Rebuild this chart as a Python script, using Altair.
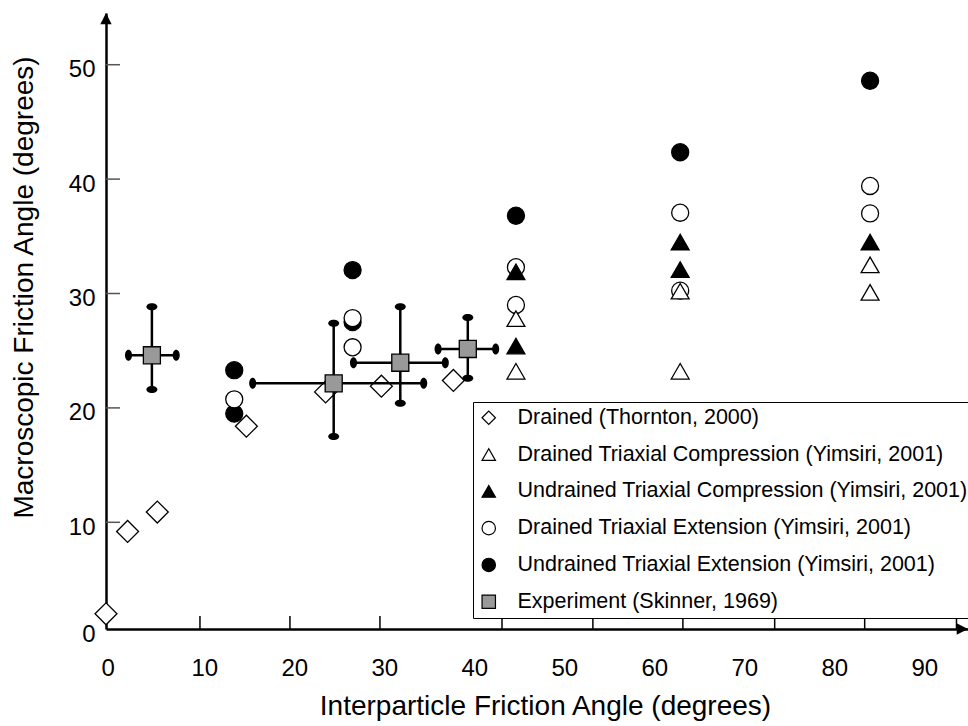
import altair as alt
import pandas as pd

FONT = "Liberation Sans, Arial, Helvetica, sans-serif"

# ---- series definitions (legend order) ----
series_names = [
    "Drained (Thornton, 2000)",
    "Drained Triaxial Compression (Yimsiri, 2001)",
    "Undrained Triaxial Compression (Yimsiri, 2001)",
    "Drained Triaxial Extension (Yimsiri, 2001)",
    "Undrained Triaxial Extension (Yimsiri, 2001)",
    "Experiment (Skinner, 1969)",
]
series_shapes = ["diamond", "triangle-up", "triangle-up", "circle", "circle", "square"]
series_fills = ["white", "white", "black", "white", "black", "#999999"]
series_strokes = ["black"] * 6

# ---- Thornton (2000), drained DEM results ----
thornton_x = [0.0, 2.4, 5.7, 15.6, 24.4, 30.6, 38.6]
thornton_y = [2.0, 9.2, 10.9, 18.4, 21.4, 21.9, 22.4]

# ---- Yimsiri (2001) ----
dtc_x = [45.55, 45.55, 63.8, 63.8, 84.9, 84.9]
dtc_y = [27.8, 23.2, 30.2, 23.2, 32.5, 30.1]
utc_x = [45.55, 45.55, 63.8, 63.8, 84.9]
utc_y = [31.9, 25.4, 34.5, 32.1, 34.5]
dte_x = [14.25, 27.4, 27.4, 45.55, 45.55, 63.8, 63.8, 84.9, 84.9]
dte_y = [20.75, 27.85, 25.3, 32.3, 29.0, 37.06, 30.25, 39.4, 37.0]
ute_x = [14.25, 14.25, 27.4, 27.4, 45.55, 63.8, 84.9]
ute_y = [23.3, 19.5, 32.05, 27.5, 36.8, 42.35, 48.6]

# ---- Skinner (1969) experiments with ranges ----
skinner_x = [5.1, 25.3, 32.7, 40.2]
skinner_y = [24.6, 22.15, 23.95, 25.15]
skinner_x_lo = [2.5, 16.3, 27.5, 36.9]
skinner_x_hi = [7.8, 35.3, 37.7, 43.3]
skinner_y_lo = [21.6, 17.5, 20.4, 22.6]
skinner_y_hi = [28.85, 27.4, 28.85, 27.9]

# ---- axis ticks / labels ----
x_label_values = [0, 10, 20, 30, 40, 50, 60, 70, 80, 90]
x_tick_values = [10.44, 20.44, 30.44, 44.0, 54.1, 64.1, 74.3, 84.3, 94.5]
y_tick_values = [10, 20, 30, 40, 50]
x_domain = [0, 95.78]
y_domain = [0.673, 54.52]
# the lowest label "0" sits at the bottom of the vertical axis
y_label_values = [y_domain[0]] + y_tick_values

W, H = 862, 616

xs = alt.Scale(domain=x_domain, nice=False, zero=False)
ys = alt.Scale(domain=y_domain, nice=False, zero=False)

x_axis = alt.Axis(
    values=x_label_values, ticks=False, tickSize=0, grid=False,
    domainColor="black", domainWidth=2.5,
    labelFont=FONT, labelFontSize=24, labelColor="black",
    labelAlign="left", labelOffset=-5, labelPadding=27,
    labelFlush=False, labelOverlap=False,
    title="Interparticle Friction Angle (degrees)",
    titleFont=FONT, titleFontSize=28, titleFontWeight="normal", titleColor="black",
    titleX=439, titleY=85, titleAlign="center", titleBaseline="alphabetic",
)
y_axis = alt.Axis(
    values=y_label_values, ticks=False, tickSize=0, grid=False,
    domainColor="black", domainWidth=2.5,
    labelFont=FONT, labelFontSize=24, labelColor="black",
    labelPadding=11, labelOffset=5, labelFlush=False, labelOverlap=False,
    labelBaseline="middle",
    labelExpr="datum.value < 1 ? '0' : datum.label",
    title="Macroscopic Friction Angle (degrees)",
    titleFont=FONT, titleFontSize=28, titleFontWeight="normal", titleColor="black",
    titleX=-74, titleY=274, titleAngle=270, titleAlign="center", titleBaseline="alphabetic",
)

legend = alt.Legend(
    title=None, orient="none", legendX=367, legendY=389,
    strokeColor="black", fillColor="white", padding=5,
    rowPadding=13.8, symbolSize=180, symbolStrokeColor="black", symbolStrokeWidth=1.2,
    symbolOffset=0, labelOffset=18,
    labelFont=FONT, labelFontSize=21.5, labelColor="black", labelLimit=800,
)

X = lambda f: alt.X(f, scale=xs, axis=x_axis)
Y = lambda f: alt.Y(f, scale=ys, axis=y_axis)


def series_frame(name, xv, yv):
    return pd.DataFrame({"x": xv, "y": yv, "series": name})


def point_layer(df, size):
    return alt.Chart(df).mark_point(
        filled=True, strokeWidth=1.3, opacity=1, size=size
    ).encode(
        x=X("x:Q"), y=Y("y:Q"),
        shape=alt.Shape("series:N", scale=alt.Scale(domain=series_names, range=series_shapes), legend=legend),
        fill=alt.Fill("series:N", scale=alt.Scale(domain=series_names, range=series_fills), legend=legend),
        stroke=alt.Stroke("series:N", scale=alt.Scale(domain=series_names, range=series_strokes), legend=legend),
    )


thornton_df = series_frame(series_names[0], thornton_x, thornton_y)
# filled circles first, then open circles, then triangles on top
circles_df = pd.concat([
    series_frame(series_names[4], ute_x, ute_y),
    series_frame(series_names[3], dte_x, dte_y),
], ignore_index=True)
triangles_df = pd.concat([
    series_frame(series_names[2], utc_x, utc_y),
    series_frame(series_names[1], dtc_x, dtc_y),
], ignore_index=True)
skinner_df = pd.DataFrame({
    "x": skinner_x, "y": skinner_y,
    "xlo": skinner_x_lo, "xhi": skinner_x_hi,
    "ylo": skinner_y_lo, "yhi": skinner_y_hi,
    "series": series_names[5],
})

# inward-pointing tick marks
x_ticks = alt.Chart(pd.DataFrame({"x": x_tick_values})).mark_rule(
    color="black", strokeWidth=1.5
).encode(x=X("x:Q"), y=alt.value(H), y2=alt.value(H - 13))
y_ticks = alt.Chart(pd.DataFrame({"y": y_tick_values})).mark_rule(
    color="#555555", strokeWidth=1.5
).encode(y=Y("y:Q"), x=alt.value(0), x2=alt.value(14))

# Skinner ranges: bars and elliptical end caps
hbars = alt.Chart(skinner_df).mark_rule(color="black", strokeWidth=2.5).encode(
    x=X("xlo:Q"), x2="xhi:Q", y=Y("y:Q"))
vbars = alt.Chart(skinner_df).mark_rule(color="black", strokeWidth=2.5).encode(
    x=X("x:Q"), y=Y("ylo:Q"), y2="yhi:Q")
ELL_V = "M-0.64,0 A0.64,1 0 1,1 0.64,0 A0.64,1 0 1,1 -0.64,0 Z"
ELL_H = "M-1,0 A1,0.64 0 1,1 1,0 A1,0.64 0 1,1 -1,0 Z"
cap_style = dict(filled=True, color="black", opacity=1, size=121)
caps_lo_x = alt.Chart(skinner_df).mark_point(shape=ELL_V, **cap_style).encode(x=X("xlo:Q"), y=Y("y:Q"))
caps_hi_x = alt.Chart(skinner_df).mark_point(shape=ELL_V, **cap_style).encode(x=X("xhi:Q"), y=Y("y:Q"))
caps_lo_y = alt.Chart(skinner_df).mark_point(shape=ELL_H, **cap_style).encode(x=X("x:Q"), y=Y("ylo:Q"))
caps_hi_y = alt.Chart(skinner_df).mark_point(shape=ELL_H, **cap_style).encode(x=X("x:Q"), y=Y("yhi:Q"))

# arrowheads at the axis ends
one = pd.DataFrame({"a": [0]})
arrow_up = alt.Chart(one).mark_point(
    shape="M0,-1L1,1L-1,1Z", filled=True, color="black", opacity=1, size=128
).encode(x=alt.value(0), y=alt.value(5.65))
arrow_right = alt.Chart(one).mark_point(
    shape="M1,0L-1,1L-1,-1Z", filled=True, color="black", opacity=1, size=128
).encode(x=alt.value(W - 5.65), y=alt.value(H))

chart = alt.layer(
    x_ticks, y_ticks,
    point_layer(thornton_df, 480),
    hbars, vbars, caps_lo_x, caps_hi_x, caps_lo_y, caps_hi_y,
    point_layer(skinner_df[["x", "y", "series"]], 290),
    point_layer(circles_df, 290),
    point_layer(triangles_df, 320),
    arrow_up, arrow_right,
).properties(
    width=W, height=H,
    padding={"left": 106, "top": 13, "right": 0, "bottom": 97},
    autosize=alt.AutoSizeParams(type="none"),
    background="white",
).configure_view(stroke=None)

chart.save("out.html", embed_options={"renderer": "svg", "actions": False})
